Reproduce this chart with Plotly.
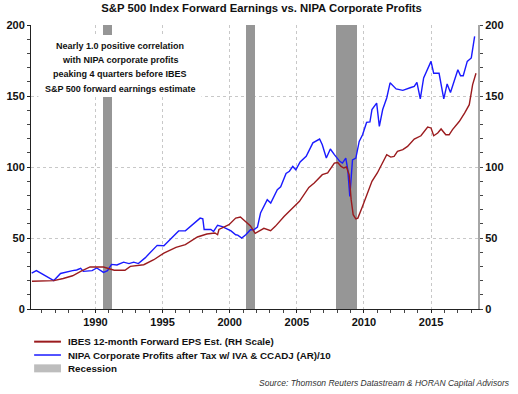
import plotly.graph_objects as go

# NIPA Corporate Profits after Tax w/ IVA & CCADJ (AR)/10  (left scale)
nipa_year = [1985.25, 1985.6, 1986.9, 1987.4, 1988.3, 1988.6, 1988.9, 1989.1, 1989.75, 1990.1,
             1990.6, 1990.9, 1991.2, 1991.6, 1992.1, 1992.5, 1992.85, 1993.2, 1993.7, 1994.2,
             1994.6, 1995.1, 1995.8, 1996.2, 1996.7, 1997.3, 1997.8, 1998.0, 1998.1, 1998.6,
             1998.8, 1999.1, 1999.45, 2000.1, 2000.45, 2000.6, 2000.9, 2001.2, 2001.55, 2001.8,
             2002.07, 2002.3, 2002.8, 2003.06, 2003.55, 2003.8, 2004.2, 2004.45, 2004.7, 2004.93,
             2005.25, 2005.7, 2006.2, 2006.7, 2006.9, 2007.2, 2007.5, 2007.8, 2008.2, 2008.4,
             2008.65, 2008.8, 2008.95, 2009.15, 2009.4, 2009.65, 2009.9, 2010.2, 2010.45, 2010.6,
             2010.95, 2011.15, 2011.4, 2011.7, 2011.95, 2012.4, 2012.9, 2013.5, 2013.75, 2013.95,
             2014.2, 2014.45, 2014.75, 2015.0, 2015.2, 2015.6, 2015.95, 2016.2, 2016.45, 2017.0,
             2017.2, 2017.4, 2017.7, 2018.0, 2018.25]
nipa_value = [25.3, 27, 20, 25, 27, 27.5, 28.6, 26.5, 27, 28.9,
              25.8, 27, 31.4, 31, 33, 32, 33, 32, 36, 41.3,
              44.8, 44.6, 51, 55, 55, 60, 64, 63.5, 56, 56,
              54.6, 59, 58, 55, 52.3, 52, 50, 52.3, 55.8, 55.8,
              57.7, 67.6, 77, 74.6, 84, 86, 95.5, 97, 100.4, 98,
              103.5, 107.5, 117, 119.7, 115.7, 106.3, 112.7, 108.7, 104, 102.8,
              106.3, 98, 79.3, 105, 106.3, 118, 122.7, 131.4, 131.7, 140.4,
              145, 128.6, 140.5, 148.6, 159.3, 155, 154, 156, 156.7, 159.6,
              147.9, 162.7, 169, 174.4, 166, 166, 148, 158.5, 152.5, 168.5,
              164.3, 164.3, 174.4, 176.8, 192]

# IBES 12-month Forward EPS Est. (right scale)
ibes_year = [1985.27, 1986.0, 1986.9, 1987.6, 1988.3, 1988.9, 1989.6, 1990.6, 1991.1, 1991.4,
             1992.2, 1992.6, 1993.6, 1994.35, 1995.1, 1996.0, 1996.7, 1997.6, 1998.3, 1998.9,
             1999.1, 1999.2, 1999.95, 2000.45, 2000.8, 2001.25, 2001.55, 2001.9, 2002.3, 2002.55,
             2003.05, 2003.4, 2004.05, 2004.6, 2005.2, 2005.9, 2006.3, 2006.9, 2007.3, 2007.8,
             2008.05, 2008.3, 2008.5, 2008.7, 2008.9, 2009.05, 2009.2, 2009.4, 2009.55, 2009.9,
             2010.25, 2010.6, 2011.0, 2011.4, 2011.7, 2012.0, 2012.25, 2012.5, 2012.9, 2013.25,
             2013.75, 2014.25, 2014.75, 2015.0, 2015.2, 2015.5, 2015.75, 2016.1, 2016.35, 2016.6,
             2017.1, 2017.5, 2017.85, 2018.1, 2018.35]
ibes_value = [19.5, 19.5, 20, 21.5, 23.4, 26.5, 29.6, 29.6, 28.2, 27.3,
              27.3, 30, 31.2, 34.7, 39.4, 43.4, 45.3, 50.7, 52.8, 53.5,
              52.3, 56, 59.4, 64, 64.8, 61, 58.5, 53.3, 55.8, 56.8,
              55.1, 58.2, 65.2, 70.5, 75.8, 85.6, 88.7, 94.6, 95.8, 102.8,
              103.2, 100.4, 99.3, 100, 94.6, 77, 66.4, 63.4, 64, 72.3,
              81.7, 89.9, 95.8, 102.8, 108.7, 107, 107.5, 111, 112.2, 114.5,
              119.7, 122, 128.2, 127.5, 122, 123.9, 126.8, 122.7, 122.7, 126.3,
              132, 138, 143.9, 158, 166]

# Recessions (decimal years)
rec_start = [1990.55, 2001.2, 2007.95]
rec_end = [1991.2, 2001.87, 2009.45]

x_ticks = [1990, 1995, 2000, 2005, 2010, 2015]
y_ticks = [0, 50, 100, 150, 200]

title = "S&P 500 Index Forward Earnings vs. NIPA Corporate Profits"
note_lines = ["Nearly 1.0 positive correlation",
              "with NIPA corporate profits",
              "peaking 4 quarters before IBES",
              "S&P 500 forward earnings estimate"]
source = "Source: Thomson Reuters Datastream & HORAN Capital Advisors"
legend_labels = ["IBES 12-month Forward EPS Est. (RH Scale)",
                 "NIPA Corporate Profits after Tax w/ IVA & CCADJ (AR)/10",
                 "Recession"]

FONT = "Liberation Sans"
RED = "#9b1b1e"
BLUE = "#1a1aff"
GREY = "#969696"
legend_colors = [RED, BLUE, "#bdbdbd"]
legend_widths = [2, 1.5, 8]

fig = go.Figure()

rec_mid = [(a + b) / 2 for a, b in zip(rec_start, rec_end)]
rec_w = [b - a for a, b in zip(rec_start, rec_end)]
fig.add_trace(go.Bar(x=rec_mid, y=[200] * len(rec_mid), width=rec_w,
                     marker=dict(color=GREY, line=dict(width=0)),
                     name="Recession", showlegend=False, hoverinfo="skip"))

fig.add_trace(go.Scatter(x=ibes_year, y=ibes_value, mode="lines", yaxis="y2",
                         name=legend_labels[0], showlegend=False,
                         line=dict(color=RED, width=1.4)))
fig.add_trace(go.Scatter(x=nipa_year, y=nipa_value, mode="lines",
                         name=legend_labels[1], showlegend=False,
                         line=dict(color=BLUE, width=1.4)))

axis_font = dict(family=FONT, size=11, color="#111111")

shapes = []
annotations = []

# white box behind the note
shapes.append(dict(type="rect", xref="x", yref="y", x0=1985.75, x1=1997.9, y0=149.3, y1=193,
                   fillcolor="white", line=dict(width=0), layer="above"))
note_y = [185.2, 175.4, 165.5, 155.0]
for txt, yy in zip(note_lines, note_y):
    annotations.append(dict(text="<b>" + txt + "</b>", xref="x", yref="y", x=1991.83, y=yy,
                            xanchor="center", yanchor="middle", showarrow=False,
                            font=dict(family=FONT, size=9, color="#111111")))

# manual legend (paper coordinates), placed below the plot area
row_y = [-0.115, -0.162, -0.209]
for lab, col, w, yy in zip(legend_labels, legend_colors, legend_widths, row_y):
    shapes.append(dict(type="line", xref="paper", yref="paper", x0=0.007, x1=0.067,
                       y0=yy, y1=yy, line=dict(color=col, width=w)))
    annotations.append(dict(text="<b>" + lab + "</b>", xref="paper", yref="paper",
                            x=0.078, y=yy, xanchor="left", yanchor="middle", showarrow=False,
                            font=dict(family=FONT, size=9.8, color="#111111")))

annotations.append(dict(text="<i>" + source + "</i>", xref="paper", yref="paper", x=1.076, y=-0.26,
                        xanchor="right", yanchor="middle", showarrow=False,
                        font=dict(family=FONT, size=8.5, color="#333333")))

fig.update_layout(
    width=518, height=394,
    margin=dict(l=31, r=40, t=25, b=85, autoexpand=False),
    paper_bgcolor="white", plot_bgcolor="white",
    bargap=0, showlegend=False, hovermode=False,
    title=dict(text="<b>" + title + "</b>", x=0.505, xanchor="center", y=0.99, yanchor="top",
               font=dict(family=FONT, size=11.3, color="#111111")),
    xaxis=dict(range=[1985.2, 2018.5], tickmode="array", tickvals=x_ticks,
               ticktext=["<b>%d</b>" % v for v in x_ticks],
               showgrid=True, gridcolor="#c8c8c8", griddash="dot", gridwidth=1,
               showline=True, linecolor="#222222", linewidth=1,
               ticks="outside", ticklen=3, tickcolor="#222222",
               minor=dict(dtick=1, tick0=1985, ticks="outside", ticklen=3, tickcolor="#444444", showgrid=False),
               tickfont=axis_font, zeroline=False, automargin=False),
    yaxis=dict(range=[0, 200], tickmode="array", tickvals=y_ticks,
               ticktext=["<b>%d</b>" % v for v in y_ticks],
               showgrid=True, gridcolor="#c8c8c8", griddash="dot", gridwidth=1,
               showline=True, linecolor="#222222", linewidth=1,
               ticks="outside", ticklen=3, tickcolor="#222222",
               minor=dict(dtick=10, tick0=0, ticks="outside", ticklen=3, tickcolor="#444444", showgrid=False),
               tickfont=axis_font, zeroline=False, automargin=False),
    yaxis2=dict(range=[0, 200], overlaying="y", side="right", tickmode="array", tickvals=y_ticks,
                ticktext=["<b>%d</b>" % v for v in y_ticks],
                showgrid=False, showline=True, linecolor="#a6a6a6", linewidth=2,
                ticks="outside", ticklen=3, tickcolor="#444444",
                minor=dict(dtick=10, tick0=0, ticks="outside", ticklen=3, tickcolor="#444444"),
                tickfont=axis_font, zeroline=False, automargin=False),
    shapes=shapes,
    annotations=annotations,
)

fig.write_html("out.html", config={"displayModeBar": False, "staticPlot": True},
               post_script="document.body.style.margin='0px';")
